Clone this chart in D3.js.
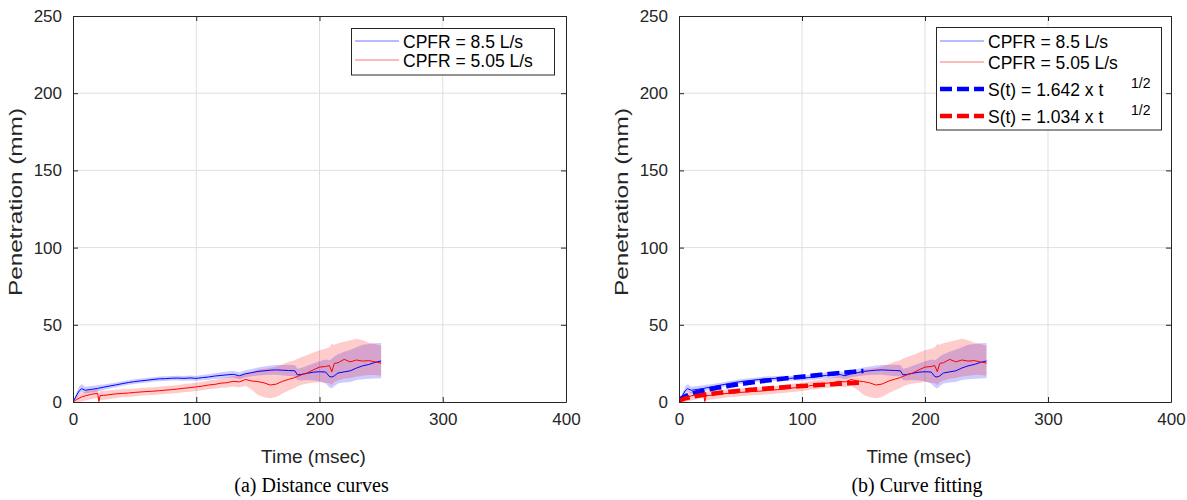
<!DOCTYPE html>
<html lang="en">
<head>
  <meta charset="UTF-8">
  <title>Penetration curves</title>
  <script src="https://cdn.jsdelivr.net/npm/d3@7"></script>
  <style>
    body { margin: 0; background: #fff; }
  </style>
</head>
<body>

  <div id="container"></div>

  <script>
    // time samples (msec)
    const timeMs = [0, 3, 5, 7, 10, 15, 20, 21, 22, 25,
      30, 35, 40, 45, 50, 55, 60, 65, 70, 75,
      80, 85, 90, 95, 100, 105, 110, 115, 120, 125,
      130, 135, 140, 145, 150, 155, 160, 165, 170, 175,
      180, 182, 185, 190, 195, 200, 205, 208, 210, 212,
      215, 220, 225, 230, 235, 240, 245, 250];

    // CPFR = 8.5 L/s : mean and spread (mm)
    const blueMean = [0, 4.5, 7.2, 8.6, 7.6, 8.2, 8.8, 9.0, 9.1, 9.6,
      10.4, 11.1, 11.9, 12.6, 13.2, 13.7, 14.1, 14.6, 15.0, 15.1,
      15.4, 15.5, 15.3, 15.6, 15.3, 15.8, 16.2, 16.8, 17.2, 17.6,
      17.9, 17.0, 18.3, 19.0, 19.8, 20.2, 20.6, 20.8, 20.6, 20.4,
      20.2, 17.6, 17.8, 18.6, 19.3, 19.6, 19.4, 16.5, 16.2, 16.9,
      18.8, 19.5, 20.2, 22.0, 23.4, 24.3, 25.6, 26.6];
    const blueLow = [0, 2.5, 5, 6.5, 5.5, 6.2, 6.8, 7.0, 7.1, 7.8,
      8.8, 9.6, 10.4, 11.1, 11.7, 12.2, 12.6, 13.1, 13.5, 13.6,
      13.9, 14.0, 13.8, 14.0, 13.7, 14.1, 14.4, 14.9, 15.2, 15.5,
      15.7, 14.8, 16.0, 16.6, 17.2, 17.5, 17.6, 17.6, 17.2, 16.9,
      16.5, 14.2, 14.0, 14.2, 14.0, 13.4, 12.0, 9.5, 8.8, 10.2,
      12.0, 12.6, 13.0, 14.2, 14.8, 15.0, 15.2, 15.4];
    const blueHigh = [0, 6.5, 10, 11.5, 9.8, 10.3, 10.8, 11.0, 11.1, 11.4,
      12.0, 12.6, 13.4, 14.1, 14.7, 15.2, 15.6, 16.1, 16.5, 16.6,
      16.9, 17.0, 16.8, 17.2, 16.9, 17.5, 18.0, 18.7, 19.2, 19.7,
      20.1, 19.2, 20.6, 21.4, 22.4, 23.0, 23.6, 24.0, 24.0, 24.1,
      24.0, 21.5, 22.0, 23.5, 25.0, 26.4, 27.5, 27.0, 28.0, 29.5,
      31.0, 32.5, 33.8, 35.5, 37.0, 37.6, 38.0, 38.2];

    // CPFR = 5.05 L/s : mean and spread (mm)
    const redMean = [0, 1.6, 2.5, 3.3, 4.0, 5.0, 5.6, 0.3, 4.2, 4.3,
      4.8, 5.3, 5.6, 5.8, 6.2, 6.5, 6.8, 7.0, 7.3, 7.7,
      8.0, 8.4, 8.9, 9.3, 9.8, 10.3, 11.0, 11.4, 12.2, 12.5,
      13.4, 13.0, 14.6, 13.6, 13.2, 12.4, 11.0, 11.6, 13.4, 14.7,
      15.8, 16.5, 17.5, 18.8, 20.8, 22.6, 23.0, 23.6, 19.6, 25.0,
      25.4, 27.6, 26.0, 27.2, 26.5, 26.8, 26.0, 25.2];
    const redLow = [0, 0, 0, 0.3, 1.0, 2.0, 2.6, 0, 1.2, 1.5,
      2.0, 2.6, 3.0, 3.3, 3.7, 4.0, 4.3, 4.5, 4.8, 5.2,
      5.5, 5.9, 6.3, 6.7, 7.2, 7.6, 8.2, 8.6, 9.2, 9.4,
      10.0, 9.4, 10.5, 8.0, 4.5, 3.0, 2.5, 3.2, 5.5, 7.5,
      9.0, 10.0, 11.0, 12.0, 12.5, 13.0, 12.5, 12.2, 11.0, 13.0,
      14.0, 15.0, 15.5, 16.5, 17.0, 17.5, 17.5, 17.0];
    const redHigh = [0, 3.5, 5.0, 6.0, 6.8, 7.8, 8.4, 5.5, 7.0, 7.1,
      7.6, 8.0, 8.3, 8.4, 8.8, 9.1, 9.4, 9.6, 9.9, 10.3,
      10.6, 11.0, 11.6, 12.0, 12.5, 13.1, 13.9, 14.4, 15.3, 15.8,
      16.8, 16.8, 18.6, 19.5, 21.0, 21.5, 22.0, 23.0, 24.5, 26.0,
      27.0, 28.0, 29.0, 30.5, 32.0, 33.5, 34.5, 35.5, 37.5, 37.0,
      38.0, 39.0, 40.0, 41.0, 40.0, 38.5, 37.5, 36.5];

    // fitted S(t) = a x t^(1/2), from the legend
    const fitCoef = [1.642, 1.034];
    const fitEnd = [150, 148];

    const xTicks = [0, 100, 200, 300, 400];
    const yTicks = [0, 50, 100, 150, 200, 250];
    const captions = ["(a) Distance curves", "(b) Curve fitting"];

    const width = 1187;
    const height = 500;
    const panels = [
      { left: 73, right: 566, fit: false },
      { left: 679, right: 1171, fit: true }
    ];
    const plotTop = 16;
    const plotBottom = 402;
    const axisColor = "#262626";
    const sans = "'Liberation Sans', Arial, Helvetica, sans-serif";

    const svg = d3.select("#container")
      .append("svg")
      .attr("width", width)
      .attr("height", height)
      .attr("viewBox", [0, 0, width, height])
      .style("font-family", sans);

    svg.append("rect").attr("width", width).attr("height", height).attr("fill", "#fff");

    const rows = timeMs.map((t, i) => ({
      t,
      bm: blueMean[i], bl: blueLow[i], bh: blueHigh[i],
      rm: redMean[i], rl: redLow[i], rh: redHigh[i]
    }));

    panels.forEach((p, pi) => {
      const x = d3.scaleLinear().domain([0, 400]).range([p.left, p.right]);
      const y = d3.scaleLinear().domain([0, 250]).range([plotBottom, plotTop]);
      const g = svg.append("g");

      g.append("clipPath").attr("id", "clip" + pi)
        .append("rect")
        .attr("x", p.left).attr("y", plotTop)
        .attr("width", p.right - p.left).attr("height", plotBottom - plotTop);

      // grid
      g.append("g")
        .attr("stroke", "#dfdfdf")
        .selectAll("line")
        .data(xTicks.slice(1, -1))
        .join("line")
        .attr("x1", d => x(d)).attr("x2", d => x(d))
        .attr("y1", plotTop).attr("y2", plotBottom);
      g.append("g")
        .attr("stroke", "#dfdfdf")
        .selectAll("line")
        .data(yTicks.slice(1, -1))
        .join("line")
        .attr("y1", d => y(d)).attr("y2", d => y(d))
        .attr("x1", p.left).attr("x2", p.right);

      const plot = g.append("g").attr("clip-path", `url(#clip${pi})`);

      const band = (lo, hi) => d3.area()
        .x(d => x(d.t)).y0(d => y(d[lo])).y1(d => y(d[hi]));
      const line = key => d3.line().x(d => x(d.t)).y(d => y(d[key]));

      plot.append("path").datum(rows)
        .attr("d", band("bl", "bh"))
        .attr("fill", "#0000ff").attr("fill-opacity", 0.2);
      plot.append("path").datum(rows)
        .attr("d", band("rl", "rh"))
        .attr("fill", "#ff0000").attr("fill-opacity", 0.2);
      plot.append("path").datum(rows)
        .attr("d", line("bm"))
        .attr("fill", "none").attr("stroke", "#0000ff").attr("stroke-width", 1);
      plot.append("path").datum(rows)
        .attr("d", line("rm"))
        .attr("fill", "none").attr("stroke", "#ff0000").attr("stroke-width", 1);

      if (p.fit) {
        const fitColors = ["#0000ff", "#ff0000"];
        fitCoef.forEach((a, k) => {
          const pts = d3.range(0, fitEnd[k] + 0.5, 1).map(t => [t, a * Math.sqrt(t)]);
          plot.append("path")
            .attr("d", d3.line().x(d => x(d[0])).y(d => y(d[1]))(pts))
            .attr("fill", "none")
            .attr("stroke", fitColors[k])
            .attr("stroke-width", 4.5)
            .attr("stroke-dasharray", "12,5");
        });
      }

      // axes, MATLAB style: box with inward ticks
      const styleAxis = sel => {
        sel.select(".domain").attr("stroke", axisColor);
        sel.selectAll(".tick line").attr("stroke", axisColor);
        sel.selectAll(".tick text").attr("fill", axisColor).style("font-size", "17px");
        sel.attr("font-family", null);
      };
      g.append("g")
        .attr("transform", `translate(0,${plotBottom})`)
        .call(d3.axisBottom(x).tickValues(xTicks).tickSizeInner(-5).tickSizeOuter(0).tickPadding(11))
        .call(styleAxis);
      g.append("g")
        .attr("transform", `translate(0,${plotTop})`)
        .call(d3.axisTop(x).tickValues(xTicks).tickSizeInner(-5).tickSizeOuter(0).tickFormat(""))
        .call(styleAxis);
      g.append("g")
        .attr("transform", `translate(${p.left},0)`)
        .call(d3.axisLeft(y).tickValues(yTicks).tickSizeInner(-5).tickSizeOuter(0).tickPadding(11))
        .call(styleAxis);
      g.append("g")
        .attr("transform", `translate(${p.right},0)`)
        .call(d3.axisRight(y).tickValues(yTicks).tickSizeInner(-5).tickSizeOuter(0).tickFormat(""))
        .call(styleAxis);

      // axis titles
      g.append("text")
        .attr("x", (p.left + p.right) / 2 - 6)
        .attr("y", 463)
        .attr("text-anchor", "middle")
        .attr("fill", axisColor)
        .style("font-size", "19px")
        .text("Time (msec)");
      g.append("text")
        .attr("transform", `translate(${p.left - 51},202) rotate(-90)`)
        .attr("text-anchor", "middle")
        .attr("fill", axisColor)
        .attr("textLength", 188)
        .attr("lengthAdjust", "spacingAndGlyphs")
        .style("font-size", "19px")
        .text("Penetration (mm)");

      // caption
      svg.append("text")
        .attr("x", (p.left + p.right) / 2 - 8)
        .attr("y", 492)
        .attr("text-anchor", "middle")
        .attr("fill", "#000")
        .style("font-family", "'Liberation Serif', 'Times New Roman', serif")
        .style("font-size", "20px")
        .text(captions[pi]);

      // legend
      const entries = [
        { label: "CPFR = 8.5 L/s", color: "#0000ff", w: 1, dash: null },
        { label: "CPFR = 5.05 L/s", color: "#ff0000", w: 1, dash: null }
      ];
      if (p.fit) {
        entries.push({ label: "S(t) = 1.642 x t", color: "#0000ff", w: 4.5, dash: "12,5", sup: "1/2" });
        entries.push({ label: "S(t) = 1.034 x t", color: "#ff0000", w: 4.5, dash: "12,5", sup: "1/2" });
      }
      const lx = p.fit ? 936 : 351;
      const lw = p.fit ? 225 : 203;
      const ly = p.fit ? 27.5 : 28.5;
      const lh = p.fit ? 102.5 : 46.5;
      const rowY = p.fit ? [41, 62, 89, 116] : [41, 60];
      const leg = g.append("g");
      leg.append("rect")
        .attr("x", lx + 0.5).attr("y", ly)
        .attr("width", lw).attr("height", lh)
        .attr("fill", "#fff").attr("stroke", axisColor);
      entries.forEach((e, i) => {
        const yy = rowY[i];
        leg.append("line")
          .attr("x1", lx + 4).attr("x2", lx + 48)
          .attr("y1", yy).attr("y2", yy)
          .attr("stroke", e.color)
          .attr("stroke-opacity", e.w === 1 ? 0.55 : 1)
          .attr("stroke-width", e.w)
          .attr("stroke-dasharray", e.dash);
        leg.append("text")
          .attr("x", lx + 52).attr("y", yy + 6.5)
          .attr("fill", "#000")
          .style("font-size", "17.5px")
          .text(e.label);
        if (e.sup) {
          leg.append("text")
            .attr("x", lx + 195).attr("y", yy - 1)
            .attr("fill", "#000")
            .style("font-size", "14px")
            .text(e.sup);
        }
      });
    });
  </script>

</body>
</html>
